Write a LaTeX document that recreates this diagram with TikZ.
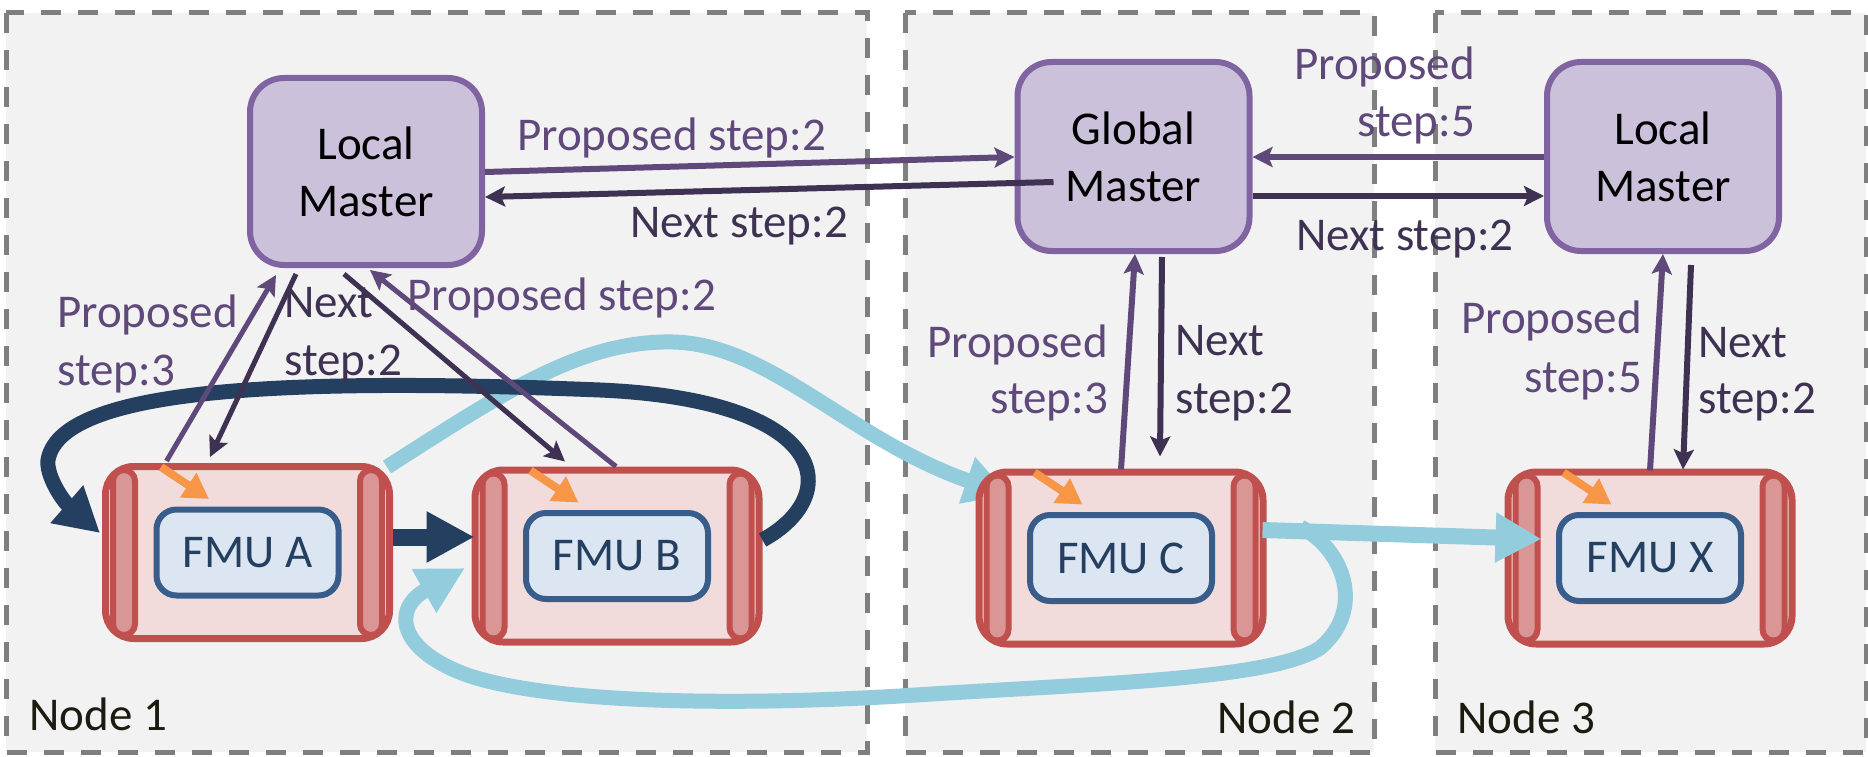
\documentclass[tikz,border=0pt]{standalone}
\usepackage{fontspec}
\setmainfont{Carlito}
\usetikzlibrary{arrows.meta,calc}

\definecolor{panelbg}{HTML}{F2F2F2}
\definecolor{panelline}{HTML}{7F7F7F}
\definecolor{masterfill}{HTML}{CCC1DA}
\definecolor{masterline}{HTML}{8064A2}
\definecolor{propcol}{HTML}{5F497A}
\definecolor{nextcol}{HTML}{3F3151}
\definecolor{fmufill}{HTML}{F2DCDB}
\definecolor{fmuline}{HTML}{C0504D}
\definecolor{capfill}{HTML}{D99694}
\definecolor{corefill}{HTML}{DCE6F2}
\definecolor{coreline}{HTML}{385D8A}
\definecolor{coretext}{HTML}{243F60}
\definecolor{orangeacc}{HTML}{F79646}
\definecolor{darkflowcol}{HTML}{243F60}
\definecolor{lightflowcol}{HTML}{93CDDD}
\definecolor{labeltext}{HTML}{1D1B10}

\pgfdeclarelayer{panel}
\pgfdeclarelayer{back}
\pgfsetlayers{panel,back,main}

\tikzset{
  every node/.style={font=\fontsize{47}{57}\selectfont},
  panelframe/.style={draw=panelline, fill=panelbg, line width=5pt, dash pattern=on 20pt off 17pt},
  masterbox/.style={draw=masterline, fill=masterfill, line width=6pt, rounded corners=34pt,
    minimum width=232pt, minimum height=187pt, align=center, text=black, inner sep=0pt},
  fmushell/.style={draw=fmuline, fill=fmufill, line width=7pt, rounded corners=28pt,
    minimum width=284pt, minimum height=172pt, inner sep=0pt},
  fmucap/.style={draw=fmuline, fill=capfill, line width=6pt, rounded corners=11pt},
  fmucore/.style={draw=coreline, fill=corefill, line width=6pt, rounded corners=20pt,
    minimum width=182pt, minimum height=86pt, text=coretext, inner sep=0pt},
  accentarrow/.style={draw=orangeacc, line width=8pt, -{Triangle[length=25pt,width=28pt]}},
  proparrow/.style={draw=propcol, line width=6pt, -{Stealth[length=20pt,width=20pt,inset=4pt]}},
  nextarrow/.style={draw=nextcol, line width=6pt, -{Stealth[length=20pt,width=20pt,inset=4pt]}},
  darkflow/.style={draw=darkflowcol, line width=15pt},
  lightflow/.style={draw=lightflowcol, line width=15pt},
  proplabel/.style={text=propcol, inner sep=0pt},
  nextlabel/.style={text=nextcol, inner sep=0pt},
  panellabel/.style={text=labeltext, inner sep=0pt},
}

% one simulation unit: shell, two end caps, core box and the small input arrow
\newcommand{\drawfmu}[3]{%
  \node[fmushell] (#1) at (#2) {};
  \draw[fmucap] ($(#1.north west)+(11,7)$) rectangle ($(#1.south west)+(33,-7)$);
  \draw[fmucap] ($(#1.north east)+(-11,7)$) rectangle ($(#1.south east)+(-33,-7)$);
  \node[fmucore] (#1-core) at (#1.center) {#3};
  \draw[accentarrow] ($(#1.north west)+(59,4)$) -- ($(#1.north west)+(107,36)$);
}

\begin{document}
\begin{tikzpicture}[x=1pt,y=-1pt]
\useasboundingbox (0,0) rectangle (1868,757);

% computing-node panels
\begin{pgfonlayer}{panel}
  \fill[white] (0,0) rectangle (1868,757);
  \draw[panelframe] (6,13) rectangle (867,752);
  \draw[panelframe] (905,13) rectangle (1374,752);
  \draw[panelframe] (1435,13) rectangle (1866,752);
\end{pgfonlayer}

% simulation units
\drawfmu{fmua}{247.5,552.5}{FMU A}
\drawfmu{fmub}{617,556}{FMU B}
\drawfmu{fmuc}{1121,558}{FMU C}
\drawfmu{fmux}{1650,558}{FMU X}

% data flow A -> C, passing under the unit C
\begin{pgfonlayer}{back}
  \draw[lightflow, -{Triangle[length=45pt,width=46pt]}]
    ($(fmua.north east)+(-6,4)$) .. controls (500,395) and (580,340) .. (673,342)
    .. controls (770,344) and (850,440) .. ($(fmuc.west)+(34,-63)$);
\end{pgfonlayer}

% data flows inside node 1
\draw[darkflow, -{Triangle[length=44pt,width=47pt]}]
  ($(fmub.east)+(0,-16)$) .. controls (845,495) and (830,400) .. (600,390)
  .. controls (250,376) and (60,393) .. (48,460)
  .. controls (46,475) and (62,500) .. ($(fmua.west)+(-2,-19.5)$);
\draw[darkflow, line width=17pt, -{Triangle[length=48pt,width=48pt]}]
  ($(fmua.east)+(0,-15.5)$) -- ($(fmub.west)+(3,-19)$);

% data flows from C
\draw[lightflow, line width=16pt, -{Triangle[length=46pt,width=47pt]}]
  ($(fmuc.east)+(-4,-28)$) -- ($(fmux.west)+(37,-19)$);
\draw[lightflow, -{Triangle[length=47pt,width=47pt]}]
  ($(fmuc.east)+(34,-31)$) .. controls (1345,550) and (1365,610) .. (1320,648)
  .. controls (1270,680) and (1100,683) .. (900,696)
  .. controls (750,705) and (560,705) .. (470,676)
  .. controls (400,652) and (390,610) .. ($(fmub.west)+(-6.5,12)$);

% masters
\node[masterbox] (lm1) at (366,171.5) {Local\\Master};
\node[masterbox, minimum height=189pt] (gm) at (1133.5,156.5) {Global\\Master};
\node[masterbox, minimum height=189pt] (lm2) at (1663,156.5) {Local\\Master};

% master to master messages
\draw[proparrow] ($(lm1.east)+(0,0.5)$) -- ($(gm.west)+(0,0.5)$);
\draw[nextarrow] ($(gm.west)+(39,25.5)$) -- ($(lm1.east)+(0,25.5)$);
\draw[proparrow] ($(lm2.west)+(0,0.5)$) -- ($(gm.east)+(0,0.5)$);
\draw[nextarrow] ($(gm.east)+(0,39.5)$) -- ($(lm2.west)+(0,39.5)$);

% unit to master messages
\draw[proparrow, line width=5pt] ($(fmua.north)+(-81,-2)$) -- ($(lm1.south)+(-90,7)$);
\draw[nextarrow, line width=5pt] ($(lm1.south)+(-70,6)$) -- ($(fmua.north)+(-37.5,-6)$);
\draw[nextarrow, line width=5pt] ($(lm1.south)+(-22,6)$) -- ($(fmub.north)+(-52,-5)$);
\draw[proparrow, line width=5pt] ($(fmub.north)+(-1,0)$) -- ($(lm1.south)+(4,2)$);
\draw[proparrow] ($(fmuc.north)+(0,1)$) -- ($(gm.south)+(1.5,0)$);
\draw[nextarrow] ($(gm.south)+(28.5,3)$) -- ($(fmuc.north)+(39,-12)$);
\draw[proparrow] ($(fmux.north)+(0,2)$) -- (lm2.south);
\draw[nextarrow] ($(lm2.south)+(28,11)$) -- ($(fmux.north)+(33,1)$);

% message labels
\node[proplabel, anchor=base west] (t1) at (517,150) {Proposed step:2};
\node[nextlabel, anchor=base east] (t2) at (848,237) {Next step:2};
\node[proplabel, anchor=base west] (t3) at (57,327) {Proposed};
\node[proplabel, anchor=base west] (t4) at (57,385) {step:3};
\node[nextlabel, anchor=base west] (t5) at (284,317) {Next};
\node[nextlabel, anchor=base west] (t6) at (284,375) {step:2};
\node[proplabel, anchor=base west] (t7) at (407,310) {Proposed step:2};
\node[proplabel, anchor=base east] (t8) at (1475,80) {Proposed};
\node[proplabel, anchor=base east] (t9) at (1475,137) {step:5};
\node[nextlabel, anchor=base west] (t10) at (1296,250) {Next step:2};
\node[proplabel, anchor=base east] (t11) at (1108,357) {Proposed};
\node[proplabel, anchor=base east] (t12) at (1108,413) {step:3};
\node[nextlabel, anchor=base west] (t13) at (1175,355) {Next};
\node[nextlabel, anchor=base west] (t14) at (1175,413) {step:2};
\node[proplabel, anchor=base east] (t15) at (1642,333) {Proposed};
\node[proplabel, anchor=base east] (t16) at (1642,392) {step:5};
\node[nextlabel, anchor=base west] (t17) at (1698,357) {Next};
\node[nextlabel, anchor=base west] (t18) at (1698,413) {step:2};

% panel names
\node[panellabel, anchor=base west] (n1) at (29,730) {Node 1};
\node[panellabel, anchor=base west] (n2) at (1217,733) {Node 2};
\node[panellabel, anchor=base west] (n3) at (1457,733) {Node 3};
\end{tikzpicture}
\end{document}
